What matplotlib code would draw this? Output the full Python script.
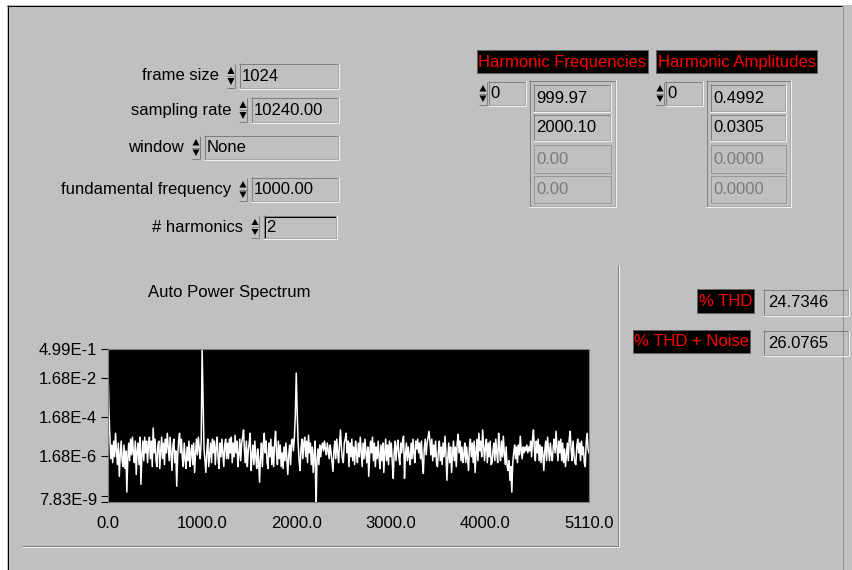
import matplotlib
matplotlib.use("Agg")
import matplotlib.pyplot as plt
import matplotlib.transforms as mtransforms
from matplotlib.patches import Rectangle, Polygon
import numpy as np

plt.rcParams['font.family'] = ['Liberation Sans', 'DejaVu Sans']
plt.rcParams['font.size'] = 12

# front panel values
controlLabels = ['frame size', 'sampling rate', 'window', 'fundamental frequency', '# harmonics']
controlValues = ['1024', '10240.00', 'None', '1000.00', '2']
harmFreqs = ['999.97', '2000.10', '0.00', '0.00']
harmAmps = ['0.4992', '0.0305', '0.0000', '0.0000']
thdLabels = ['% THD', '% THD + Noise']
thdValues = ['24.7346', '26.0765']

# auto power spectrum, log10 of power, one bin every 10 Hz
df = 10.0
apsLogA = [
    -1.22, -3.46, -4.8, -5.9, -5.2, -6.1, -5.0, -5.8, -4.6, -5.5, -6.2, -5.1, -6.8, -5.7, -5.0, -6.0,
    -6.3, -5.2, -6.4, -5.5, -7.6, -5.9, -5.1, -6.0, -4.9, -5.7, -4.8, -5.6, -6.1, -5.0, -6.7, -5.5,
    -5.1, -6.2, -4.8, -7.2, -5.7, -5.0, -6.0, -4.8, -5.6, -5.0, -6.1, -5.2, -4.8, -5.9, -5.0, -6.3,
    -4.33, -5.6, -4.9, -6.0, -6.3, -5.2, -5.0, -6.4, -5.5, -4.8, -5.9, -5.1, -6.2, -4.9, -5.6, -4.6,
    -5.3, -6.0, -4.8, -5.7, -6.5, -5.2, -4.9, -6.1, -5.5, -7.3, -5.8, -5.0, -4.6, -5.6, -4.9, -5.9,
    -6.3, -5.1, -5.9, -6.4, -5.3, -6.0, -5.0, -6.3, -5.6, -5.2, -6.2, -5.1, -6.6, -5.6, -4.9, -5.7,
    -4.8, -5.4, -5.9, -5.0, -0.302, -3.0, -5.4, -6.0, -6.6, -5.5, -4.9, -6.3, -5.7, -5.1, -6.1, -4.9,
    -5.6, -5.0, -6.2, -5.3, -4.8, -5.9, -6.4, -5.1, -5.8, -4.9, -5.6, -6.3, -5.2, -4.9, -5.9, -5.1,
]
apsLogB = [
    -5.9, -4.9, -5.6, -4.8, -6.1, -5.1, -5.8, -4.7, -5.6, -5.0, -6.3, -5.7, -4.9, -6.0, -5.1, -4.8,
    -4.43, -5.5, -6.1, -5.0, -6.3, -5.5, -5.1, -4.6, -6.5, -5.8, -5.2, -6.2, -5.0, -5.8, -6.4, -5.4,
    -6.0, -7.1, -5.8, -5.1, -6.3, -5.2, -4.6, -5.6, -5.0, -6.1, -6.4, -5.1, -5.8, -4.9, -6.2, -5.3,
    -6.3, -5.1, -4.5, -5.6, -6.2, -5.0, -5.9, -5.2, -6.3, -5.6, -6.4, -5.3, -6.0, -5.1, -5.9, -6.7,
    -5.7, -5.2, -6.2, -5.0, -4.9, -5.5, -4.8, -3.67, -1.53, -3.57, -5.1, -6.0, -6.5, -5.4, -4.9, -5.9,
    -5.1, -4.8, -5.8, -5.0, -6.1, -4.7, -5.6, -5.1, -6.2, -5.3, -6.6, -5.7, -5.0, -8.6, -6.0, -5.4,
    -6.2, -5.2, -5.8, -5.3, -5.1, -5.5, -5.0, -5.4, -5.7, -5.1, -5.5, -5.9, -5.2, -5.6, -6.1, -6.55,
    -5.5, -5.0, -5.9, -4.9, -5.6, -6.1, -5.1, -4.43, -5.4, -5.9, -6.1, -5.1, -4.9, -4.6, -5.6, -5.0,
]
apsLogC = [
    -6.3, -5.1, -5.8, -4.9, -6.0, -5.3, -6.2, -5.0, -5.6, -6.1, -5.1, -5.8, -4.8, -5.5, -6.3, -5.1,
    -5.9, -4.9, -5.6, -6.1, -5.3, -6.8, -5.7, -5.0, -5.6, -4.8, -6.0, -5.1, -6.3, -5.3, -5.9, -5.0,
    -5.8, -6.4, -5.2, -6.0, -5.1, -6.6, -5.6, -4.9, -6.0, -5.2, -6.2, -5.0, -5.8, -5.1, -6.1, -6.9,
    -5.6, -5.0, -6.0, -5.3, -4.95, -5.8, -6.2, -5.1, -5.6, -5.0, -4.75, -6.9, -5.7, -5.1, -6.0, -5.3,
    -5.8, -6.2, -5.1, -5.9, -4.9, -5.6, -6.1, -5.0, -5.4, -4.9, -5.6, -5.1, -5.9, -5.0, -6.1, -6.65,
    -5.4, -4.9, -5.7, -5.1, -4.8, -4.5, -5.0, -5.7, -4.9, -6.0, -5.2, -5.8, -5.0, -6.1, -6.3, -5.5,
    -5.0, -6.0, -5.3, -6.2, -5.1, -5.8, -4.75, -5.6, -7.0, -5.9, -5.1, -6.1, -5.3, -6.6, -5.7, -5.0,
    -6.0, -5.3, -6.3, -5.1, -4.65, -5.6, -5.0, -6.0, -5.3, -6.1, -5.7, -5.1, -6.1, -5.3, -5.9, -6.5,
]
apsLogD = [
    -5.3, -4.9, -5.8, -5.1, -6.1, -5.0, -6.6, -5.6, -4.9, -6.0, -4.6, -5.5, -5.0, -5.8, -4.43, -5.2,
    -6.0, -5.3, -4.9, -6.1, -5.1, -5.8, -5.0, -6.2, -6.1, -5.5, -5.1, -6.0, -4.9, -5.6, -6.1, -4.6,
    -5.4, -6.0, -5.0, -5.8, -4.75, -5.6, -6.2, -5.3, -6.3, -6.5, -6.0, -7.0, -6.3, -7.6, -6.1, -5.6,
    -5.2, -5.9, -5.3, -6.1, -5.2, -5.7, -4.75, -5.5, -5.9, -5.3, -5.6, -5.3, -5.5, -5.2, -5.6, -5.3,
    -5.5, -5.0, -5.8, -4.9, -4.43, -5.4, -6.0, -5.0, -5.6, -4.9, -6.0, -5.2, -6.1, -5.3, -5.7, -6.5,
    -5.5, -5.0, -6.0, -4.8, -5.4, -6.0, -5.1, -5.7, -6.0, -5.3, -4.9, -5.6, -4.5, -5.3, -6.0, -5.0,
    -5.6, -4.9, -6.0, -5.1, -6.1, -5.4, -6.3, -5.7, -5.1, -6.0, -4.9, -4.5, -5.4, -6.0, -5.0, -5.7,
    -6.1, -6.2, -5.3, -4.9, -5.6, -5.1, -6.0, -5.0, -5.7, -5.3, -6.1, -6.3, -5.1, -4.6, -5.4, -5.6,
]

yTicks = [4.99e-1, 1.68e-2, 1.68e-4, 1.68e-6, 1.68e-8, 7.83e-9]
yTickLabels = ['4.99E-1', '1.68E-2', '1.68E-4', '1.68E-6', '', '7.83E-9']
xTicks = [0, 1000, 2000, 3000, 4000, 5110]
xTickLabels = ['0.0', '1000.0', '2000.0', '3000.0', '4000.0', '5110.0']

W, H = 852, 570
BG = '#c0c0c0'
LW = 0.72  # one pixel in points


def hline(ax, x0, x1, y, c):
    ax.plot([x0, x1], [y, y], color=c, lw=LW, solid_capstyle='butt')


def vline(ax, x, y0, y1, c):
    ax.plot([x, x], [y0, y1], color=c, lw=LW, solid_capstyle='butt')


def sunken(ax, x0, y0, x1, y1):
    hline(ax, x0, x1, y0 + 0.5, '#808080')
    vline(ax, x0 + 0.5, y0, y1, '#808080')
    hline(ax, x0, x1, y1 - 0.5, '#f0f0f0')
    vline(ax, x1 - 0.5, y0, y1, '#f0f0f0')
    hline(ax, x0 + 1, x1 - 1, y1 - 1.5, '#a8a8a8')
    vline(ax, x1 - 1.5, y0 + 1, y1 - 1, '#a8a8a8')


def dotted(ax, x0, y0, x1, y1):
    ax.add_patch(Rectangle((x0 + 0.5, y0 + 0.5), x1 - x0 - 1, y1 - y0 - 1, fill=False,
                           ec='#707070', lw=LW, ls=(0, (1, 1))))


def spinner(ax, x0, y0, y1):
    xc = x0 + 4
    ym = (y0 + y1) / 2
    ax.add_patch(Polygon([[xc, y0 + 3], [xc - 3.5, ym - 2], [xc + 3.5, ym - 2]], closed=True,
                         fc='black', ec='none'))
    ax.add_patch(Polygon([[xc, y1 - 3], [xc - 3.5, ym + 2], [xc + 3.5, ym + 2]], closed=True,
                         fc='black', ec='none'))
    hline(ax, x0, x0 + 8, ym, '#808080')
    hline(ax, x0, x0 + 8, y1 - 0.5, '#808080')
    vline(ax, x0 + 8, y0, y1, '#808080')


def redLabel(ax, x0, y0, x1, y1, text):
    ax.add_patch(Rectangle((x0, y0), x1 - x0, y1 - y0, fc='black', ec='#606060', lw=LW))
    ax.text((x0 + x1) / 2, (y0 + y1) / 2 + 0.5, text, color='#ff0000', ha='center', va='center')


fig = plt.figure(figsize=(W / 100, H / 100), dpi=100, facecolor='white')
panel = fig.add_axes([0, 0, 1, 1])
panel.set_xlim(0, W)
panel.set_ylim(H, 0)
panel.axis('off')

# panel background and border
panel.add_patch(Rectangle((7, 5), W - 7, H - 5, fc=BG, ec='none'))
hline(panel, 7, 842, 5.5, 'black')
vline(panel, 7.5, 5, H, 'black')
vline(panel, 842.5, 6, H, '#8c8c8c')

# controls on the left
boxX = [239, 251, 204, 251, 263]
boxY = [(63, 89), (97, 123), (135, 160), (177, 202), (215, 239)]
for lab, val, bx, (y0, y1) in zip(controlLabels, controlValues, boxX, boxY):
    ym = (y0 + y1) / 2
    panel.text(bx - 20, ym, lab, ha='right', va='center')
    spinner(panel, bx - 12, y0 + 1, y1 - 1)
    right = 337 if lab == '# harmonics' else 339
    sunken(panel, bx, y0, right, y1)
    if lab == '# harmonics':
        panel.add_patch(Rectangle((bx + 1.5, y0 + 1.5), right - bx - 3, y1 - y0 - 3, fill=False,
                                  ec='black', lw=LW))
    panel.text(bx + 3, ym + 0.5, val, ha='left', va='center')

# harmonic arrays
for labX, text, idxX, arrX, vals in [((477, 648), 'Harmonic Frequencies', 478, (529, 616), harmFreqs),
                                     ((656, 817), 'Harmonic Amplitudes', 655, (706, 791), harmAmps)]:
    redLabel(panel, labX[0], 50, labX[1], 73, text)
    spinner(panel, idxX + 1, 82, 105)
    sunken(panel, idxX + 10, 81, idxX + 48, 106)
    panel.text(idxX + 12, 93.5, '0', ha='left', va='center')
    ax0, ax1 = arrX
    sunken(panel, ax0, 80, ax1, 207)
    rows = [(84, 112), (114, 141), (144, 173), (175, 203)]
    for k, (v, (y0, y1)) in enumerate(zip(vals, rows)):
        if k < 2:
            sunken(panel, ax0 + 4, y0, ax1 - 5, y1)
            panel.text(ax0 + 7, (y0 + y1) / 2 + 0.5, v, ha='left', va='center')
        else:
            dotted(panel, ax0 + 4, y0, ax1 - 5, y1)
            panel.text(ax0 + 7, (y0 + y1) / 2 + 0.5, v, ha='left', va='center', color='#7a7a7a')

# THD indicators
thdBoxes = [((697, 754), (289, 313), (289, 316)), ((633, 750), (330, 353), (330, 356))]
for lab, val, ((lx0, lx1), (ly0, ly1), (vy0, vy1)) in zip(thdLabels, thdValues, thdBoxes):
    redLabel(panel, lx0, ly0, lx1, ly1, lab)
    sunken(panel, 763, vy0, 849, vy1)
    panel.text(768, (vy0 + vy1) / 2, val, ha='left', va='center')

# etched separators around the graph
hline(panel, 22, 618, 545.5, '#808080')
hline(panel, 22, 619, 546.5, '#f4f4f4')
vline(panel, 617.5, 265, 546, '#808080')
vline(panel, 618.5, 265, 546, '#f4f4f4')

panel.text(229, 292, 'Auto Power Spectrum', ha='center', va='center')

# spectrum graph
aps = 10.0 ** np.array(apsLogA + apsLogB + apsLogC + apsLogD)
freq = np.arange(len(aps)) * df

ax = fig.add_axes([108 / W, 1 - 502 / H, 481 / W, 153 / H])
ax.set_facecolor('black')
ax.plot(freq, aps, color='white', lw=1.1)
ax.set_yscale('log')
ax.set_xlim(0, 5110)
ax.set_ylim(7.83e-9, 4.99e-1)
ax.minorticks_off()
ax.set_yticks(yTicks)
ax.set_yticklabels(yTickLabels)
ax.set_xticks(xTicks)
ax.set_xticklabels(xTickLabels)
ax.tick_params(axis='y', length=5, width=0.8, pad=3, labelsize=12, color='black')
ax.tick_params(axis='x', length=0, pad=10, labelsize=12)
# bottom label sits a little above its tick, as on the panel
lift = mtransforms.ScaledTranslation(0, 3 / 100, fig.dpi_scale_trans)
ax.get_yticklabels()[-1].set_transform(ax.get_yticklabels()[-1].get_transform() + lift)
for s in ax.spines.values():
    s.set_color('#808080')
    s.set_linewidth(0.8)

fig.savefig('out.png', dpi=100, facecolor='white')
